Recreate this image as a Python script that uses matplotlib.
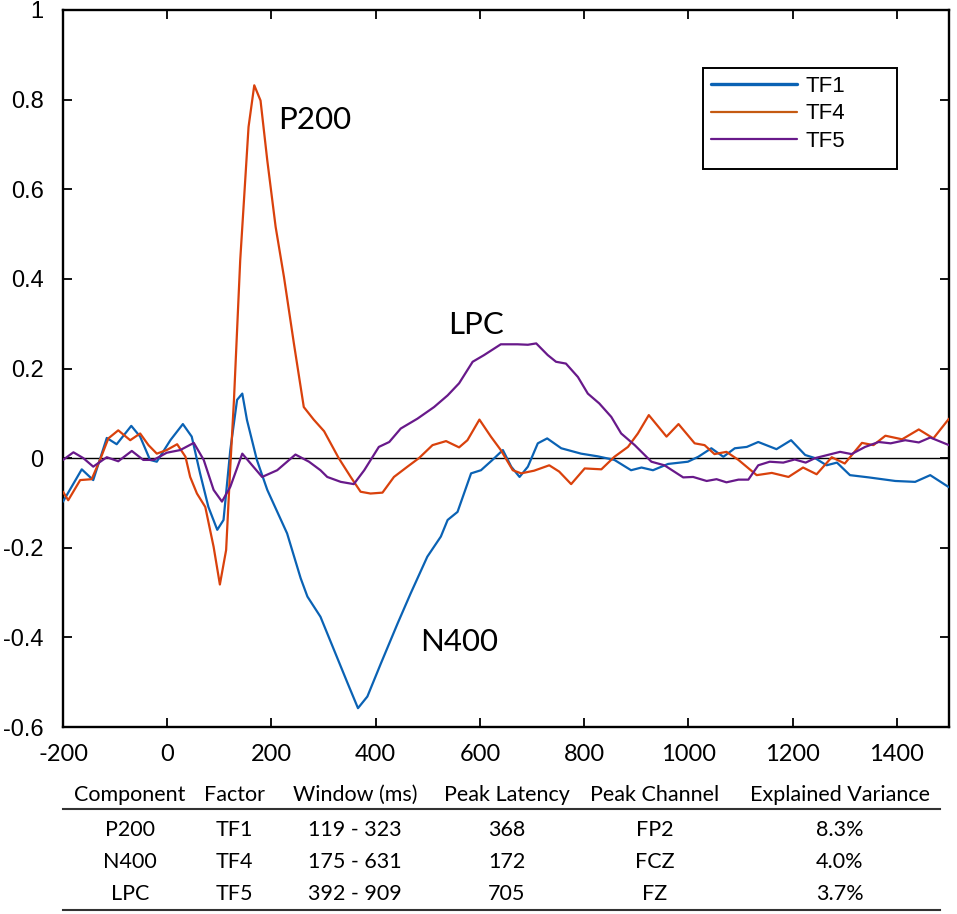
import numpy as np
import matplotlib.pyplot as plt
from matplotlib.lines import Line2D
from matplotlib.patches import Rectangle

# temporal factors (time in ms, loading)
tf1_t = [-200, -164, -142, -116, -97, -69, -52, -33, -20, 6, 30, 47, 63, 79, 96, 108, 121, 134, 144, 153,
         172, 192, 230, 256, 269, 294, 320, 346, 366, 384, 410, 442, 467, 499, 525, 538, 557, 583, 602, 624,
         644, 660, 676, 692, 711, 729, 756, 794, 826, 858, 890, 910, 932, 961, 999, 1019, 1044, 1067, 1089,
         1112, 1134, 1169, 1197, 1224, 1243, 1265, 1285, 1310, 1346, 1397, 1435, 1464, 1500]
tf1_v = [-0.097, -0.025, -0.049, 0.045, 0.031, 0.072, 0.048, -0.004, -0.008, 0.040, 0.076, 0.048, -0.034,
         -0.109, -0.160, -0.138, 0.018, 0.130, 0.144, 0.085, -0.004, -0.071, -0.168, -0.268, -0.309, -0.354,
         -0.428, -0.502, -0.558, -0.532, -0.458, -0.369, -0.302, -0.220, -0.175, -0.138, -0.120, -0.034,
         -0.027, -0.004, 0.018, -0.019, -0.042, -0.019, 0.033, 0.044, 0.022, 0.010, 0.004, -0.004, -0.027,
         -0.021, -0.027, -0.013, -0.008, 0.003, 0.022, 0.003, 0.022, 0.025, 0.036, 0.020, 0.040, 0.007, 0.0,
         -0.016, -0.010, -0.038, -0.043, -0.051, -0.053, -0.038, -0.065]

tf4_t = [-200, -190, -167, -145, -129, -113, -94, -71, -52, -36, -20, -1, 19, 35, 44, 57, 73, 89, 101, 113,
         121, 128, 140, 156, 167, 179, 192, 208, 224, 243, 262, 281, 301, 329, 352, 371, 390, 413, 435, 461,
         483, 509, 535, 560, 576, 599, 621, 640, 663, 679, 704, 733, 752, 775, 801, 833, 858, 884, 903, 924,
         958, 981, 1012, 1031, 1050, 1073, 1096, 1131, 1160, 1192, 1220, 1246, 1275, 1300, 1333, 1355, 1378,
         1410, 1442, 1470, 1500]
tf4_v = [-0.075, -0.094, -0.049, -0.047, -0.004, 0.044, 0.062, 0.040, 0.055, 0.029, 0.010, 0.018, 0.031,
         0.003, -0.042, -0.079, -0.109, -0.198, -0.282, -0.205, -0.019, 0.129, 0.441, 0.739, 0.832, 0.798,
         0.664, 0.516, 0.404, 0.256, 0.114, 0.086, 0.060, 0.000, -0.042, -0.075, -0.079, -0.077, -0.042,
         -0.019, 0.000, 0.029, 0.038, 0.024, 0.040, 0.086, 0.048, 0.018, -0.027, -0.034, -0.028, -0.016,
         -0.030, -0.058, -0.023, -0.025, 0.003, 0.025, 0.055, 0.096, 0.048, 0.076, 0.033, 0.029, 0.009,
         0.014, -0.004, -0.038, -0.033, -0.042, -0.021, -0.036, 0.002, -0.012, 0.034, 0.029, 0.050, 0.042,
         0.064, 0.044, 0.088]

tf5_t = [-200, -180, -161, -142, -116, -94, -68, -46, -26, -1, 25, 51, 70, 89, 105, 121, 144, 160, 182, 211,
         246, 272, 294, 307, 333, 358, 378, 406, 426, 448, 480, 512, 538, 560, 586, 608, 640, 672, 692, 708,
         730, 746, 765, 788, 807, 829, 852, 871, 897, 929, 954, 990, 1009, 1035, 1054, 1073, 1096, 1115,
         1134, 1156, 1182, 1204, 1225, 1243, 1291, 1313, 1339, 1365, 1388, 1416, 1442, 1464, 1500]
tf5_v = [-0.004, 0.013, 0.000, -0.019, 0.002, -0.007, 0.016, -0.004, -0.004, 0.012, 0.018, 0.034, -0.004,
         -0.071, -0.097, -0.064, 0.010, -0.012, -0.042, -0.027, 0.008, -0.008, -0.027, -0.042, -0.053,
         -0.058, -0.027, 0.025, 0.036, 0.066, 0.088, 0.114, 0.140, 0.167, 0.215, 0.230, 0.254, 0.254, 0.253,
         0.256, 0.230, 0.215, 0.211, 0.181, 0.144, 0.122, 0.092, 0.055, 0.029, -0.008, -0.016, -0.043,
         -0.042, -0.051, -0.047, -0.054, -0.048, -0.048, -0.016, -0.008, -0.010, -0.003, -0.010, 0.000,
         0.014, 0.009, 0.025, 0.036, 0.033, 0.040, 0.035, 0.046, 0.029]

# table under the plot
header = ['Component', 'Factor', 'Window (ms)', 'Peak Latency', 'Peak Channel', 'Explained Variance']
components = ['P200', 'N400', 'LPC']
factors = ['TF1', 'TF4', 'TF5']
windows = ['119 - 323', '175 - 631', '392 - 909']
latencies = ['368', '172', '705']
channels = ['FP2', 'FCZ', 'FZ']
variances = ['8.3%', '4.0%', '3.7%']

W, H = 957, 914
fig = plt.figure(figsize=(W / 100, H / 100), dpi=100)
ax = fig.add_axes([63 / W, 1 - 727 / H, (949 - 63) / W, (727 - 10) / H])

ax.axhline(0, color='black', lw=1.0, zorder=1)
kw = dict(lw=1.6, zorder=3, solid_joinstyle='round', solid_capstyle='round')
ax.plot(tf1_t, tf1_v, color='#0a62b4', label='TF1', **kw)
ax.plot(tf4_t, tf4_v, color='#d9410c', label='TF4', **kw)
ax.plot(tf5_t, tf5_v, color='#68198a', label='TF5', **kw)

ax.set_xlim(-200, 1500)
ax.set_ylim(-0.6, 1.0)
ax.set_xticks(np.arange(-200, 1401, 200))
ax.set_yticks(np.arange(-0.6, 1.01, 0.2))
ax.set_yticklabels(['-0.6', '-0.4', '-0.2', '0', '0.2', '0.4', '0.6', '0.8', '1'],
                   fontfamily='Liberation Sans', fontsize=17)
ax.set_xticklabels([str(v) for v in range(-200, 1401, 200)], fontfamily='Lato', fontsize=17)
ax.tick_params(axis='both', direction='in', length=6.5, width=1.3, top=True, right=True)
ax.tick_params(axis='y', pad=14)
ax.tick_params(axis='x', pad=12)
for s in ax.spines.values():
    s.set_linewidth(1.7)

ax.text(213, 0.754, 'P200', fontfamily='Lato', fontsize=22.5, va='center', ha='left')
ax.text(538, 0.297, 'LPC', fontfamily='Lato', fontsize=22.5, va='center', ha='left')
ax.text(485, -0.410, 'N400', fontfamily='Lato', fontsize=22.5, va='center', ha='left')

# legend with square frame
x0, x1 = (703 - 63) / 886, (897 - 63) / 886
y0, y1 = (727 - 169) / 717, (727 - 68) / 717
ax.add_patch(Rectangle((x0, y0), x1 - x0, y1 - y0, transform=ax.transAxes, fill=False,
                       edgecolor='black', lw=1.4, zorder=5))
leg = ax.legend(loc='upper left', bbox_to_anchor=(x0, y1), borderaxespad=0, borderpad=0.35,
                frameon=False, handlelength=3.9, handletextpad=0.35, labelspacing=0.3,
                prop={'family': 'Liberation Sans', 'size': 16})
leg.get_lines()[0].set_linewidth(2.4)
leg.get_lines()[1].set_color('#c55a11')

# table
cols = [130, 234, 355, 507, 655, 840]
rows_y = [830, 862, 894]
for cx, h in zip(cols, header):
    fig.text(cx / W, 1 - 795 / H, h, fontfamily='Lato', fontsize=15.5, ha='center', va='center')
for i, row in enumerate(zip(components, factors, windows, latencies, channels, variances)):
    for cx, val in zip(cols, row):
        fig.text(cx / W, 1 - rows_y[i] / H, val, fontfamily='Lato', fontsize=15.5,
                 ha='center', va='center')
for ly in [809, 910]:
    fig.add_artist(Line2D([63 / W, 940 / W], [1 - ly / H, 1 - ly / H], transform=fig.transFigure,
                          color='#333333', lw=1.5))

fig.savefig('out.png', dpi=100)
